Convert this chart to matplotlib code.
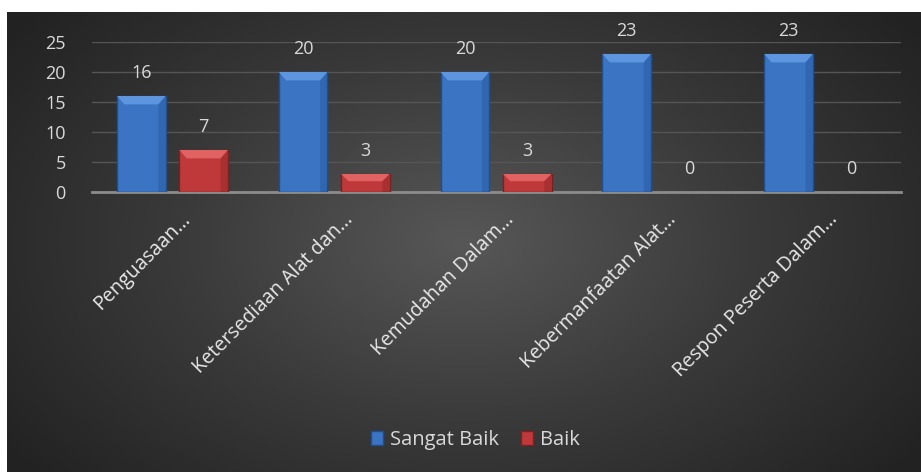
import numpy as np
import matplotlib.pyplot as plt
import matplotlib.transforms as mtransforms
from matplotlib.patches import Polygon, Patch
from matplotlib.colors import LinearSegmentedColormap

categories = ['Penguasaan…', 'Ketersediaan Alat dan…', 'Kemudahan Dalam…',
              'Kebermanfaatan Alat…', 'Respon Peserta Dalam…']
sangat_baik = [16, 20, 20, 23, 23]
baik = [7, 3, 3, 0, 0]
series_names = ['Sangat Baik', 'Baik']

plt.rcParams['font.family'] = ['Open Sans', 'DejaVu Sans']
txt = '#d9d9d9'

fig = plt.figure(figsize=(9.21, 4.72), dpi=100)
fig.patch.set_facecolor('white')

# dark panel with radial gradient
bg = fig.add_axes([7 / 921, 0, 914 / 921, 460 / 472])
yy, xx = np.mgrid[-1:1:300j, -1:1:600j]
r = np.clip(np.sqrt(xx ** 2 + (yy * 0.8) ** 2), 0, 1.25)
cmap = LinearSegmentedColormap.from_list('bg', ['#575757', '#3a3a3a', '#222222'])
bg.imshow(r, cmap=cmap, vmin=0, vmax=1.25, aspect='auto',
          extent=[0, 1, 0, 1], interpolation='bilinear')
bg.set_axis_off()

ax = fig.add_axes([92 / 921, 1 - 192 / 472, 809 / 921, 150 / 472])
ax.set_facecolor('none')
x = np.arange(len(categories))
w = 0.30
blue = ('#3a74c2', '#5d96de', '#1f4f8f')
red = ('#c0393a', '#e06262', '#7f2020')


def bevel_bars(bars, cols):
    for b in bars:
        h = b.get_height()
        if h <= 0:
            b.set_linewidth(0)
            continue
        x0, bw = b.get_x(), b.get_width()
        d = 0.045
        dy = min(1.4, h * 0.4)
        ax.add_patch(Polygon([[x0, h], [x0 + bw, h], [x0 + bw - d, h - dy],
                              [x0 + d, h - dy]], closed=True,
                             facecolor=cols[1], edgecolor='none', zorder=4))
        ax.add_patch(Polygon([[x0 + bw, 0], [x0 + bw - d, 0],
                              [x0 + bw - d, h - dy], [x0 + bw, h]],
                             closed=True, facecolor=cols[2], alpha=0.35,
                             edgecolor='none', zorder=4))


b1 = ax.bar(x - 0.195, sangat_baik, w, color=blue[0], edgecolor=blue[2],
            linewidth=1, zorder=3)
b2 = ax.bar(x + 0.19, baik, w, color=red[0], edgecolor=red[2],
            linewidth=1, zorder=3)
bevel_bars(b1, blue)
bevel_bars(b2, red)

for bars, vals in ((b1, sangat_baik), (b2, baik)):
    for b, v in zip(bars, vals):
        ax.annotate(str(v), (b.get_x() + b.get_width() / 2, v),
                    xytext=(0, 10), textcoords='offset points',
                    ha='center', va='bottom', color=txt, fontsize=13)

ax.set_xlim(-0.5, len(categories) - 0.5)
ax.set_ylim(0, 25)
ax.set_yticks(range(0, 26, 5))
ax.grid(axis='y', color='#555555', linewidth=1, zorder=0)
ax.set_axisbelow(True)
for s in ['top', 'right', 'left']:
    ax.spines[s].set_visible(False)
ax.spines['bottom'].set_color('#8c8c8c')
ax.spines['bottom'].set_linewidth(2)
ax.tick_params(axis='both', length=0, colors=txt, labelsize=13)
ax.tick_params(axis='y', pad=19)
ax.tick_params(axis='x', pad=4, colors='#e8e8e8')
ax.set_xticks(x)
ax.set_xticklabels(categories, rotation=45, ha='right',
                   rotation_mode='anchor', fontsize=14.2)
shift = mtransforms.ScaledTranslation(8 / 100, -12 / 100, fig.dpi_scale_trans)
for lbl in ax.get_xticklabels():
    lbl.set_transform(lbl.get_transform() + shift)

handles = [Patch(facecolor=blue[0], edgecolor=blue[2]),
           Patch(facecolor=red[0], edgecolor=red[2])]
fig.legend(handles, series_names, loc='center', bbox_to_anchor=(0.516, 1 - 440 / 472),
           ncol=2, frameon=False, labelcolor=txt, fontsize=14.5,
           handlelength=0.6, handleheight=0.75, handletextpad=0.35, columnspacing=1.1)

fig.savefig('out.png', dpi=100)
